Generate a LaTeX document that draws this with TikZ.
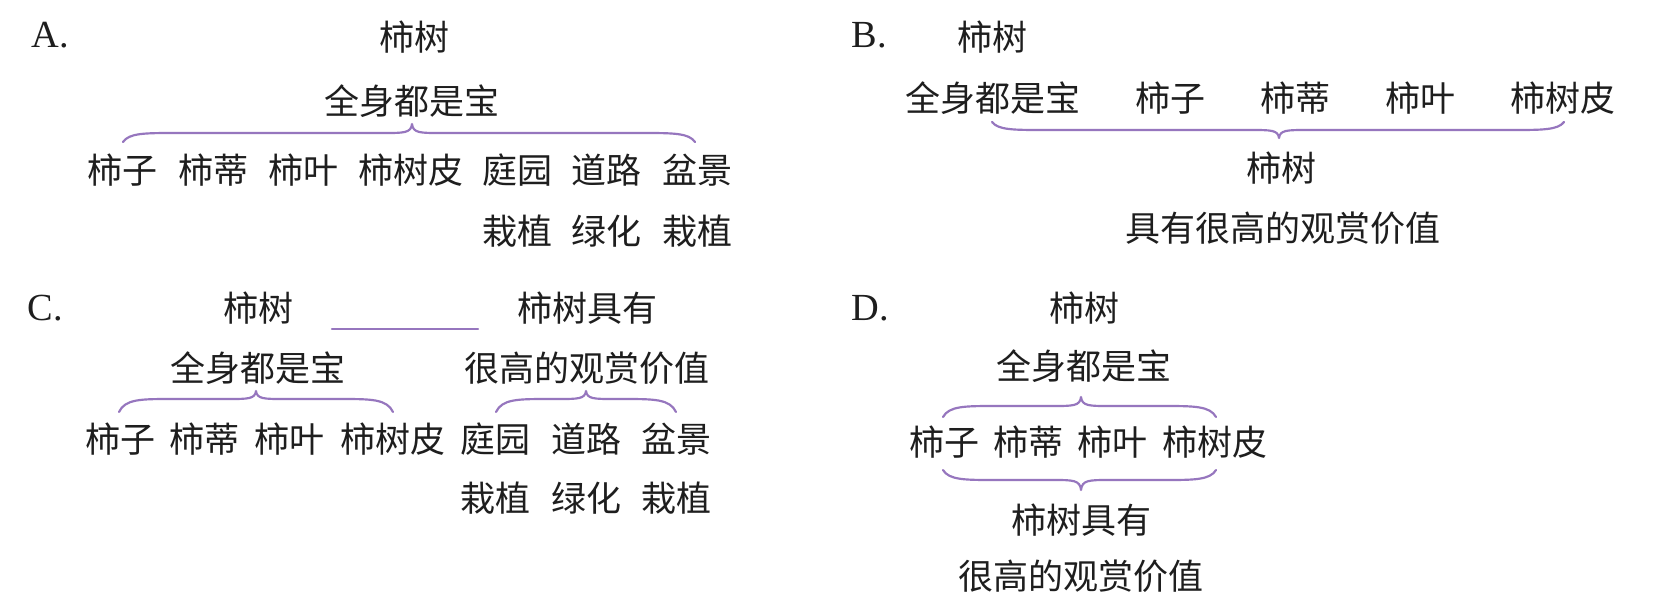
\documentclass[tikz,border=0pt]{standalone}
\usepackage{fontspec}
\setmainfont{Liberation Serif}
\newfontfamily\cjk{Noto Sans CJK SC}
\definecolor{txt}{RGB}{30,30,30}
\definecolor{brc}{RGB}{150,118,190}
\newcommand\mybrace[6]{%
  \draw[bracestyle] (#1,#4) .. controls (#1+6,#5) and (#1+22,#5) .. (#1+52,#5)
    -- (#3-28,#5) .. controls (#3-8,#5) and (#3-1,#5) .. (#3,#6)
    .. controls (#3+1,#5) and (#3+8,#5) .. (#3+28,#5)
    -- (#2-52,#5) .. controls (#2-22,#5) and (#2-6,#5) .. (#2,#4);}
\begin{document}
\begin{tikzpicture}[x=0.3pt,y=-0.3pt,
  cj/.style={font=\cjk\fontsize{10.5}{12}\selectfont,anchor=base,inner sep=0pt,text=txt},
  lab/.style={font=\fontsize{11.5}{13}\selectfont,anchor=base west,inner sep=0pt,text=txt},
  bracestyle/.style={draw=brc,line width=0.65pt,line cap=round,line join=round}]
\fill[white] (0,0) rectangle (1663,601);
\useasboundingbox (0,0) rectangle (1663,601);
% ---------- A ----------
\node[lab] (labA) at (31,47) {A.};
\node[cj] (aT) at (414,50) {柿树};
\node[cj] (aQ) at (412,114) {全身都是宝};
\mybrace{123}{695}{412}{142}{133}{124}
\node[cj] (a1) at (122,183) {柿子};
\node[cj] (a2) at (213,183) {柿蒂};
\node[cj] (a3) at (303,183) {柿叶};
\node[cj] (a4) at (411,183) {柿树皮};
\node[cj] (a5) at (517,183) {庭园};
\node[cj] (a6) at (606,183) {道路};
\node[cj] (a7) at (697,183) {盆景};
\node[cj] (a8) at (517,244) {栽植};
\node[cj] (a9) at (606,244) {绿化};
\node[cj] (a10) at (697,244) {栽植};
% ---------- B ----------
\node[lab] (labB) at (851,47) {B.};
\node[cj] (bT) at (992,50) {柿树};
\node[cj] (b1) at (993,111) {全身都是宝};
\node[cj] (b2) at (1170,111) {柿子};
\node[cj] (b3) at (1295,111) {柿蒂};
\node[cj] (b4) at (1420,111) {柿叶};
\node[cj] (b5) at (1563,111) {柿树皮};
\mybrace{992}{1564}{1279}{122}{130}{138}
\node[cj] (bT2) at (1281,181) {柿树};
\node[cj] (bV) at (1283,241) {具有很高的观赏价值};
% ---------- C ----------
\node[lab] (labC) at (27,320) {C.};
\node[cj] (cT) at (258,321) {柿树};
\node[cj] (cT2) at (587,321) {柿树具有};
\coordinate (cl1) at (332,329);
\coordinate (cl2) at (478,329);
\draw[bracestyle] (cl1) -- (cl2);
\node[cj] (cQ) at (258,381) {全身都是宝};
\node[cj] (cV) at (587,381) {很高的观赏价值};
\mybrace{119}{393}{256}{412}{399}{391}
\mybrace{496}{676}{586}{412}{399}{391}
\node[cj] (c1) at (120,452) {柿子};
\node[cj] (c2) at (204,452) {柿蒂};
\node[cj] (c3) at (289,452) {柿叶};
\node[cj] (c4) at (393,452) {柿树皮};
\node[cj] (c5) at (495,452) {庭园};
\node[cj] (c6) at (586,452) {道路};
\node[cj] (c7) at (676,452) {盆景};
\node[cj] (c8) at (495,511) {栽植};
\node[cj] (c9) at (586,511) {绿化};
\node[cj] (c10) at (676,511) {栽植};
% ---------- D ----------
\node[lab] (labD) at (851,320) {D.};
\node[cj] (dT) at (1084,321) {柿树};
\node[cj] (dQ) at (1084,379) {全身都是宝};
\mybrace{943}{1216}{1081}{417}{406}{397}
\node[cj] (d1) at (944,455) {柿子};
\node[cj] (d2) at (1028,455) {柿蒂};
\node[cj] (d3) at (1112,455) {柿叶};
\node[cj] (d4) at (1215,455) {柿树皮};
\mybrace{943}{1216}{1081}{470}{480}{490}
\node[cj] (dT2) at (1081,533) {柿树具有};
\node[cj] (dV) at (1081,589) {很高的观赏价值};
\end{tikzpicture}
\end{document}
